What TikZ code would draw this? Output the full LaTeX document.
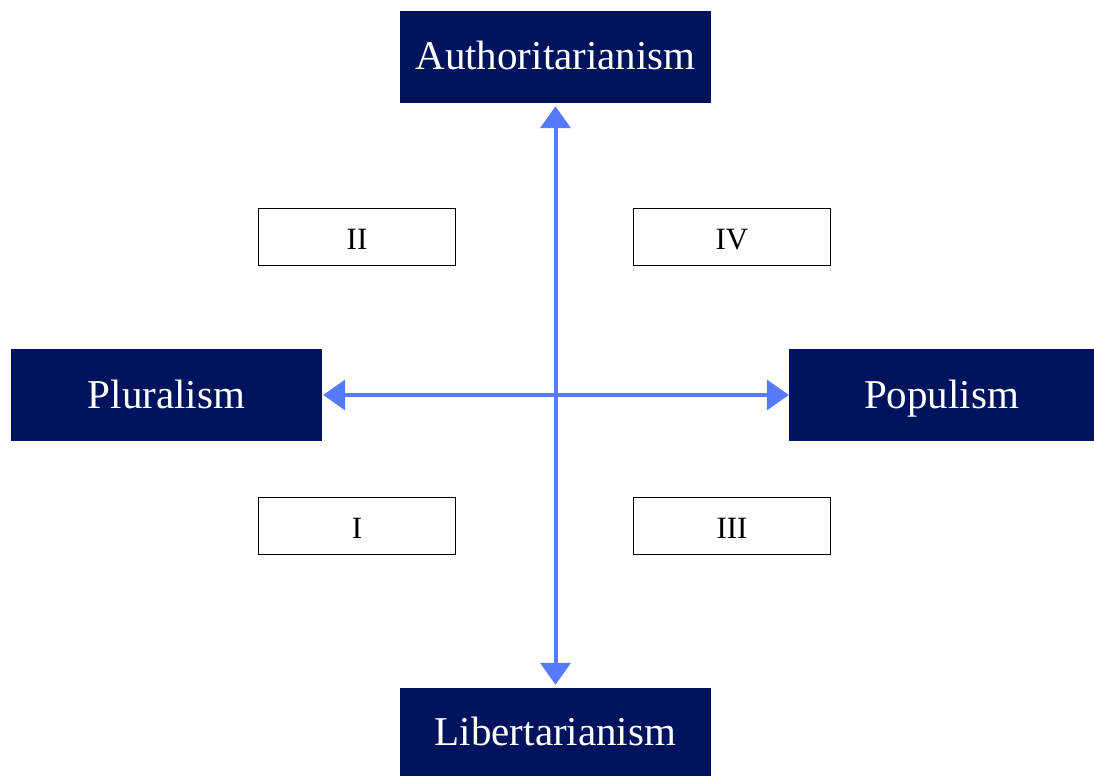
\documentclass[tikz,border=0pt]{standalone}
\usepackage{fontspec}
\setmainfont{Liberation Serif}
\usetikzlibrary{arrows.meta}
\definecolor{navy}{RGB}{0,20,94}
\definecolor{axisblue}{RGB}{88,122,255}
\begin{document}
\begin{tikzpicture}[x=1pt,y=-1pt,
  pole/.style={fill=navy, text=white, inner sep=0pt, font=\fontsize{41}{49}\selectfont, text height=34pt, text depth=8pt, anchor=center},
  quad/.style={draw=black, line width=1pt, fill=white, inner sep=0pt, minimum width=197pt, minimum height=57pt, font=\fontsize{31}{37}\selectfont, text height=24pt, text depth=0pt},
  axis/.style={draw=axisblue, line width=4pt, {Triangle[length=22pt,width=30pt]}-{Triangle[length=22pt,width=30pt]}}]
\useasboundingbox (0,0) rectangle (1094,776);
\node[pole, minimum width=311pt, minimum height=92pt] (auth) at (555.5,57) {Authoritarianism};
\node[pole, minimum width=311pt, minimum height=88pt] (lib) at (555.5,732) {Libertarianism};
\node[pole, minimum width=311pt, minimum height=92pt] (plur) at (166.5,395) {Pluralism};
\node[pole, minimum width=305pt, minimum height=92pt] (pop) at (941.5,395) {Populism};
\node[quad] (q2) at (357,237) {II};
\node[quad] (q4) at (732,237) {IV};
\node[quad] (q1) at (357,526) {I};
\node[quad] (q3) at (732,526) {III};
\draw[axis, shorten <=3pt, shorten >=3pt] (auth.south) -- (lib.north);
\draw[axis, shorten <=1pt, shorten >=0pt] (plur.east) -- (pop.west);
\end{tikzpicture}
\end{document}
